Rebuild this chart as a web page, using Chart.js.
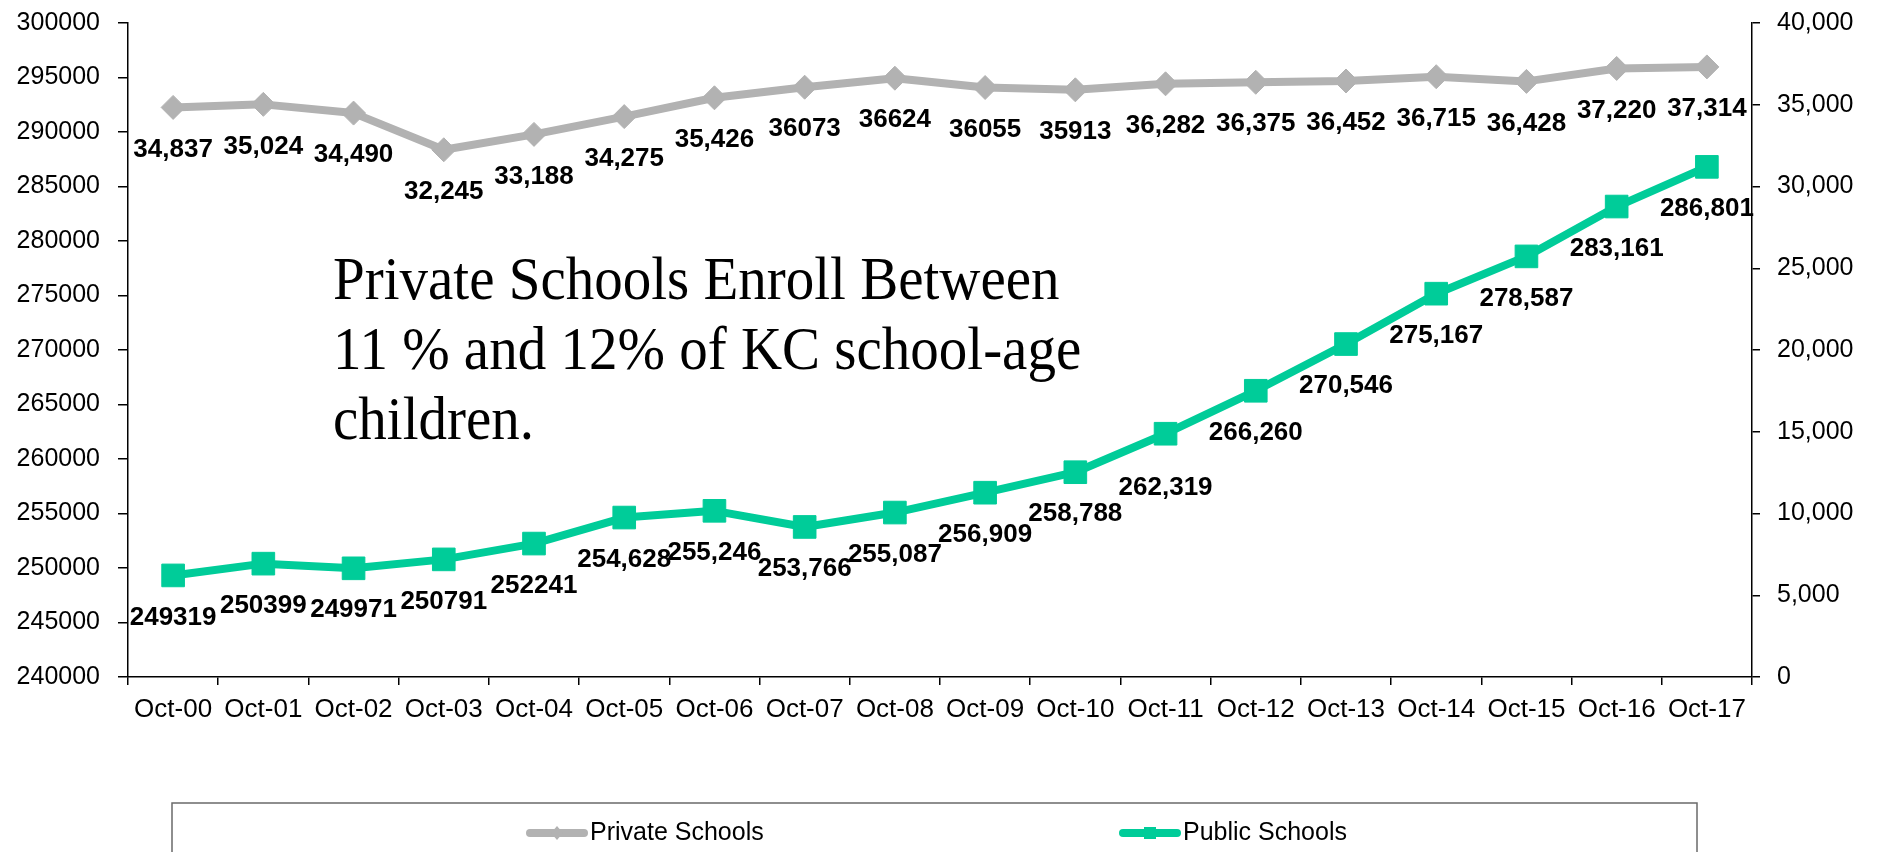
<!DOCTYPE html>
<html>
<head>
<meta charset="utf-8">
<title>KC School Enrollment</title>
<script src="https://cdn.jsdelivr.net/npm/chart.js@4.4.1/dist/chart.umd.min.js"></script>
<style>
    html, body { margin: 0; padding: 0; background: #fff; }
    #chart { display: block; }
</style>
</head>
<body>
<canvas id="chart" width="1883" height="852"></canvas>
<script>
const years = ['Oct-00', 'Oct-01', 'Oct-02', 'Oct-03', 'Oct-04', 'Oct-05', 'Oct-06', 'Oct-07', 'Oct-08',
    'Oct-09', 'Oct-10', 'Oct-11', 'Oct-12', 'Oct-13', 'Oct-14', 'Oct-15', 'Oct-16', 'Oct-17'];
const privateSchools = [34837, 35024, 34490, 32245, 33188, 34275, 35426, 36073, 36624,
    36055, 35913, 36282, 36375, 36452, 36715, 36428, 37220, 37314];
const publicSchools = [249319, 250399, 249971, 250791, 252241, 254628, 255246, 253766, 255087,
    256909, 258788, 262319, 266260, 270546, 275167, 278587, 283161, 286801];

// axis ranges: [min, max, step]
const publicAxis = [240000, 300000, 5000];
const privateAxis = [0, 40000, 5000];

// points whose value label is written without a thousands separator
const privatePlain = [7, 8, 9, 10];
const publicPlain = [0, 1, 2, 3, 4];

const noteLines = ['Private Schools Enroll Between', '11 % and 12% of KC school-age', 'children.'];

const SANS = '"Liberation Sans", Arial, sans-serif';
const GRAY = '#b2b2b2';
const TEAL = '#00cc99';

function withCommas(v) {
    return v.toLocaleString('en-US');
}

// value labels under each point (drawn over the axes, under the lines);
// the private series labels sit on a white box
const pointLabels = {
    id: 'pointLabels',
    beforeDatasetsDraw(chart) {
        const ctx = chart.ctx;
        const plain = [privatePlain, publicPlain];
        const boxed = [true, false];
        const drop = [{}, { 11: 12 }];
        ctx.save();
        ctx.font = 'bold 26px ' + SANS;
        ctx.textAlign = 'center';
        ctx.textBaseline = 'middle';
        chart.data.datasets.forEach((ds, i) => {
            const meta = chart.getDatasetMeta(i);
            meta.data.forEach((pt, j) => {
                const v = ds.data[j];
                const text = plain[i].includes(j) ? String(v) : withCommas(v);
                const y = pt.y + 41 + (drop[i][j] || 0);
                if (boxed[i]) {
                    const w = ctx.measureText(text).width;
                    ctx.fillStyle = '#fff';
                    ctx.fillRect(pt.x - w / 2 - 2, y - 20, w + 4, 40);
                }
                ctx.fillStyle = '#000';
                ctx.fillText(text, pt.x, y + 1);
            });
        });
        ctx.restore();
    }
};

// text note inside the plot
const note = {
    id: 'note',
    afterDraw(chart) {
        const ctx = chart.ctx;
        ctx.save();
        ctx.font = '57px "Liberation Serif", "Times New Roman", serif';
        ctx.fillStyle = '#000';
        ctx.textBaseline = 'middle';
        noteLines.forEach((line, i) => {
            ctx.save();
            ctx.translate(333, 283 + i * 70);
            ctx.scale(1, 1.08);
            ctx.fillText(line, 0, 0);
            ctx.restore();
        });
        ctx.restore();
    }
};

// boxed legend along the bottom: short line with the series marker
const boxLegend = {
    id: 'boxLegend',
    afterDraw(chart) {
        const ctx = chart.ctx;
        const starts = [526, 1119];
        const y = 833;
        ctx.save();
        ctx.strokeStyle = '#6a6a6a';
        ctx.lineWidth = 1.5;
        ctx.strokeRect(172, 803, 1525, 80);

        chart.data.datasets.forEach((ds, i) => {
            const x0 = starts[i];
            ctx.strokeStyle = ds.borderColor;
            ctx.lineWidth = 8;
            ctx.lineCap = 'round';
            ctx.beginPath();
            ctx.moveTo(x0 + 4, y);
            ctx.lineTo(x0 + 58, y);
            ctx.stroke();

            const cx = x0 + 31;
            ctx.fillStyle = ds.borderColor;
            ctx.beginPath();
            if (ds.pointStyle === 'rectRot') {
                ctx.moveTo(cx - 6, y);
                ctx.lineTo(cx, y - 7);
                ctx.lineTo(cx + 6, y);
                ctx.lineTo(cx, y + 7);
            } else {
                ctx.rect(cx - 6, y - 6, 12, 12);
            }
            ctx.closePath();
            ctx.fill();

            ctx.fillStyle = '#000';
            ctx.font = '25px ' + SANS;
            ctx.textBaseline = 'middle';
            ctx.fillText(ds.label, x0 + 64, y);
        });
        ctx.restore();
    }
};

const axisLine = { color: '#000', width: 1.5 };

// fixed axis widths; drop the extra room Chart.js keeps for the end labels
function fixWidth(w) {
    return s => {
        s.width = w;
        s.paddingTop = 0;
        s.paddingBottom = 0;
    };
}

new Chart(document.getElementById('chart').getContext('2d'), {
    type: 'line',
    data: {
        labels: years,
        datasets: [{
            label: 'Private Schools',
            data: privateSchools,
            yAxisID: 'y1',
            borderColor: GRAY,
            backgroundColor: GRAY,
            borderWidth: 8,
            borderJoinStyle: 'round',
            pointStyle: 'rectRot',
            pointRadius: 12,
            pointBorderWidth: 1,
            pointBorderColor: GRAY,
            pointBackgroundColor: GRAY,
            tension: 0,
            clip: false
        }, {
            label: 'Public Schools',
            data: publicSchools,
            yAxisID: 'y',
            borderColor: TEAL,
            backgroundColor: TEAL,
            borderWidth: 8,
            borderJoinStyle: 'round',
            pointStyle: 'rect',
            pointRadius: 16,
            pointBorderWidth: 1,
            pointBorderColor: TEAL,
            pointBackgroundColor: TEAL,
            tension: 0,
            clip: false
        }]
    },
    options: {
        responsive: false,
        animation: false,
        devicePixelRatio: 1,
        layout: { padding: { top: 23, bottom: 115, left: 0, right: 0 } },
        plugins: {
            legend: { display: false },
            tooltip: { enabled: false }
        },
        scales: {
            x: {
                offset: true,
                grid: { offset: true, drawOnChartArea: false, tickLength: 8, color: '#000', lineWidth: 1.5 },
                border: axisLine,
                ticks: { color: '#000', font: { family: SANS, size: 26 }, maxRotation: 0, autoSkip: false, padding: 9 },
                afterFit: s => { s.height = 60; }
            },
            y: {
                position: 'left',
                min: publicAxis[0],
                max: publicAxis[1],
                grid: { drawOnChartArea: false, tickLength: 10, color: '#000', lineWidth: 1.5 },
                border: axisLine,
                ticks: { stepSize: publicAxis[2], color: '#000', font: { family: SANS, size: 25 }, padding: 18,
                    callback: v => String(v) },
                afterFit: fixWidth(128)
            },
            y1: {
                position: 'right',
                min: privateAxis[0],
                max: privateAxis[1],
                grid: { drawOnChartArea: false, tickLength: 8, color: '#000', lineWidth: 1.5 },
                border: axisLine,
                ticks: { stepSize: privateAxis[2], color: '#000', font: { family: SANS, size: 25 }, padding: 17,
                    callback: v => withCommas(v) },
                afterFit: fixWidth(131)
            }
        }
    },
    plugins: [pointLabels, note, boxLegend]
});
</script>
</body>
</html>
